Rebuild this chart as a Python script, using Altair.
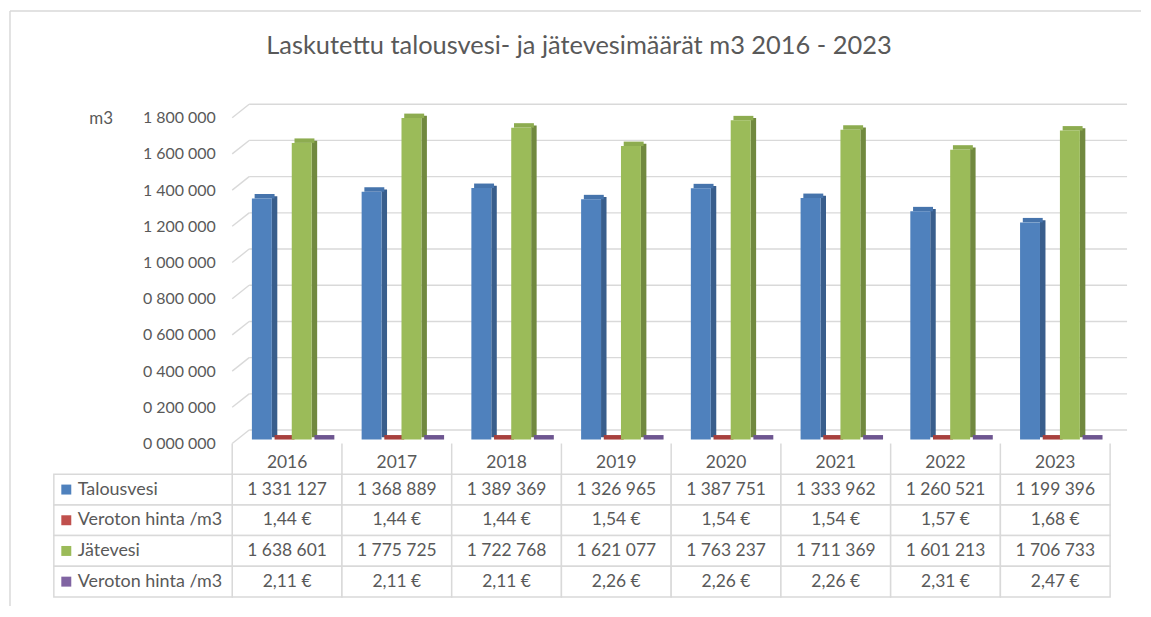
import altair as alt
import pandas as pd

# ---------------- data ----------------
years = ["2016", "2017", "2018", "2019", "2020", "2021", "2022", "2023"]
talousvesi = [1331127, 1368889, 1389369, 1326965, 1387751, 1333962, 1260521, 1199396]
hinta_talousvesi = [1.44, 1.44, 1.44, 1.54, 1.54, 1.54, 1.57, 1.68]
jatevesi = [1638601, 1775725, 1722768, 1621077, 1763237, 1711369, 1601213, 1706733]
hinta_jatevesi = [2.11, 2.11, 2.11, 2.26, 2.26, 2.26, 2.31, 2.47]

series_keys = ["s1", "s2", "s3", "s4"]
series_names = ["Talousvesi", "Veroton hinta /m3", "Jätevesi", "Veroton hinta /m3"]
series_kind = ["m3", "eur", "m3", "eur"]
front_colors = ["#4F81BD", "#C0504D", "#9BBB59", "#8064A2"]
side_colors = ["#395E8C", "#8E3A38", "#71893F", "#5E4A78"]
top_colors = ["#4674AC", "#A8403D", "#8DAC50", "#6D5590"]
y_ticks = [0, 200000, 400000, 600000, 800000, 1000000, 1200000, 1400000, 1600000, 1800000]
title_text = "Laskutettu talousvesi- ja jätevesimäärät m3 2016 - 2023"
y_title = "m3"

FONT = "Lato"
TXT = "#595959"
GRID = "#D9D9D9"

all_values = [talousvesi, hinta_talousvesi, jatevesi, hinta_jatevesi]


def fmt_m3(v):
    return f"{v:,}".replace(",", " ")


def fmt_eur(v):
    return f"{v:.2f}".replace(".", ",") + " €"


bar_rows, table_rows = [], []
for i, key in enumerate(series_keys):
    for yr, v in zip(years, all_values[i]):
        bar_rows.append({"year": yr, "key": key, "value": v,
                         "fc": front_colors[i], "sc": side_colors[i], "tc": top_colors[i]})
        table_rows.append({"year": yr, "key": key,
                           "text": fmt_m3(v) if series_kind[i] == "m3" else fmt_eur(v)})
bars_df = pd.DataFrame(bar_rows)
table_df = pd.DataFrame(table_rows)
ticks_df = pd.DataFrame({"value": y_ticks})
legend_df = pd.DataFrame({"key": series_keys, "name": series_names, "fc": front_colors})
years_df = pd.DataFrame({"year": years})
one = pd.DataFrame({"a": [0]})

W = 881
H_BAR = 327
H_TAB = 154
DX, DY = 17, 13.5

# ---------------- top: 3D-like column chart ----------------
label_expr = ("substring(format(datum.value,'07d'),0,1) + ' ' + "
              "substring(format(datum.value,'07d'),1,4) + ' ' + "
              "substring(format(datum.value,'07d'),4,7)")
Y = alt.Y("value:Q",
          scale=alt.Scale(domain=[0, 1800000], nice=False, zero=True),
          axis=alt.Axis(values=y_ticks, labelExpr=label_expr, grid=False, domain=False,
                        ticks=False, labelPadding=17, labelFont=FONT, labelFontSize=16,
                        labelColor=TXT, title=y_title, titleAngle=0, titleX=-132, titleY=1,
                        titleAlign="center", titleBaseline="middle", titleFont=FONT,
                        titleFontSize=17, titleFontWeight="normal", titleColor=TXT))
X = alt.X("year:N", sort=years, axis=None,
          scale=alt.Scale(domain=years, paddingInner=0.2734, paddingOuter=0.1367))


def xoff(rng, pad_inner=0.0):
    return alt.XOffset("key:N", sort=series_keys,
                       scale=alt.Scale(domain=series_keys, range=rng,
                                       paddingInner=pad_inner, paddingOuter=0))


border_left = alt.Chart(one).mark_rule(color=GRID, strokeWidth=1.5).encode(
    x=alt.value(-223), y=alt.value(-107), y2=alt.value(490))
border_top = alt.Chart(one).mark_rule(color=GRID, strokeWidth=1.5).encode(
    x=alt.value(-223), x2=alt.value(912), y=alt.value(-107))
title = alt.Chart(pd.DataFrame({"t": [title_text]})).mark_text(
    font=FONT, fontSize=25.5, color=TXT, align="center", baseline="middle").encode(
    x=alt.value(348), y=alt.value(-72), text="t:N")

grid = alt.Chart(ticks_df).mark_rule(color=GRID, strokeWidth=1.4, yOffset=-DY, y2Offset=-DY).encode(
    x=alt.value(DX), x2=alt.value(W + DX), y=Y)
diag = alt.Chart(ticks_df).mark_rule(color=GRID, strokeWidth=1.4, y2Offset=-DY).encode(
    x=alt.value(0), x2=alt.value(DX), y=Y, y2=alt.Y2("value:Q"))

side = alt.Chart(bars_df).mark_bar(yOffset=-6.25, y2Offset=-6.25).encode(
    x=X, xOffset=xoff([24.7, 90.2], 0.725), y=Y, color=alt.Color("sc:N", scale=None))
topf = alt.Chart(bars_df).mark_bar(yOffset=-8.5, y2Offset=-4).encode(
    x=X, xOffset=xoff([7.45, 87.45]), y=Y, y2=alt.Y2("value:Q"),
    color=alt.Color("tc:N", scale=None))
front = alt.Chart(bars_df).mark_bar(yOffset=-4, y2Offset=-4).encode(
    x=X, xOffset=xoff([4.7, 84.7]), y=Y, color=alt.Color("fc:N", scale=None))

top = alt.layer(border_left, border_top, title, grid, diag, side, topf, front).resolve_scale(
    xOffset="independent").properties(width=W, height=H_BAR)

# ---------------- bottom: data table ----------------
row_keys = ["hdr"] + series_keys
YT = alt.Y("key:N", sort=row_keys, axis=None,
           scale=alt.Scale(domain=row_keys, paddingInner=0, paddingOuter=0))
XT = alt.X("year:N", sort=years, axis=None,
           scale=alt.Scale(domain=years, paddingInner=0, paddingOuter=0))
XT0 = alt.X("year:N", sort=years, axis=None, bandPosition=0,
            scale=alt.Scale(domain=years, paddingInner=0, paddingOuter=0))
XT1 = alt.X("year:N", sort=years, axis=None, bandPosition=1,
            scale=alt.Scale(domain=years, paddingInner=0, paddingOuter=0))

cells = alt.Chart(table_df).mark_rect(fill="white", stroke=GRID, strokeWidth=1.5).encode(x=XT, y=YT)
label_cells = alt.Chart(legend_df).mark_rect(fill="white", stroke=GRID, strokeWidth=1.5).encode(
    x=alt.value(-179), x2=alt.value(0), y=YT)
hdr_lines = alt.Chart(years_df).mark_rule(color=GRID, strokeWidth=1.5).encode(
    x=XT0, y=alt.value(0), y2=alt.value(H_TAB / 5))
hdr_last = alt.Chart(pd.DataFrame({"year": [years[-1]]})).mark_rule(color=GRID, strokeWidth=1.5).encode(
    x=XT1, y=alt.value(0), y2=alt.value(H_TAB / 5))
hdr_text = alt.Chart(years_df.assign(key="hdr")).mark_text(
    font=FONT, fontSize=17.5, color=TXT, dy=4).encode(x=XT, y=YT, text="year:N")
val_text = alt.Chart(table_df).mark_text(font=FONT, fontSize=17.5, color=TXT).encode(
    x=XT, y=YT, text="text:N")
squares = alt.Chart(legend_df).mark_square(size=100, opacity=1).encode(
    x=alt.value(-166.5), y=YT, color=alt.Color("fc:N", scale=None))
names = alt.Chart(legend_df).mark_text(font=FONT, fontSize=18, color=TXT, align="left").encode(
    x=alt.value(-155), y=YT, text="name:N")

table = alt.layer(cells, label_cells, hdr_lines, hdr_last, hdr_text, val_text, squares, names).properties(
    width=W, height=H_TAB)

chart = alt.vconcat(top, table, spacing=0, bounds="flush", padding=1, background="white").configure_view(
    stroke=None)

chart.save("out.html", embed_options={"renderer": "svg", "actions": False})
